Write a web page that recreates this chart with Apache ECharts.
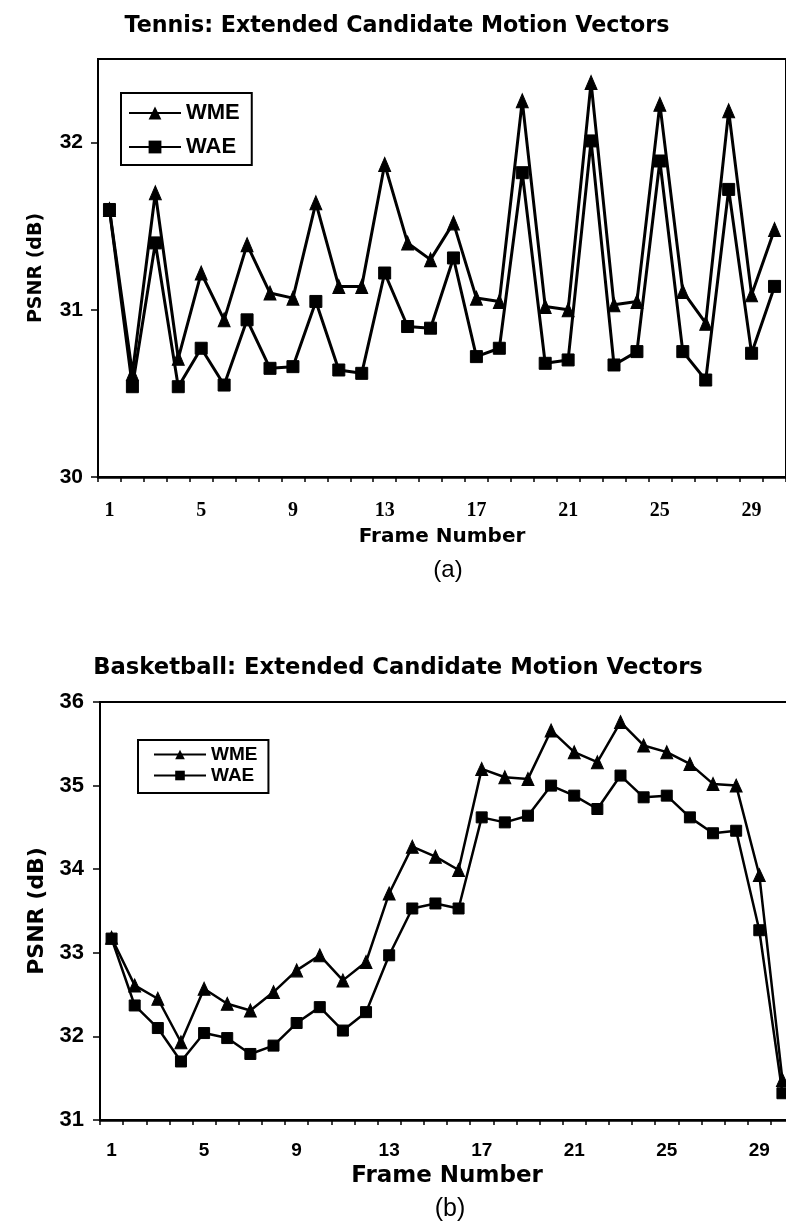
<!DOCTYPE html>
<html>
<head>
<meta charset="utf-8">
<script src="https://cdn.jsdelivr.net/npm/echarts@6/dist/echarts.min.js"></script>
<style>
html,body{margin:0;padding:0;background:#fff;}
#c{width:786px;height:1232px;}
</style>
</head>
<body>
<div id="c"></div>
<script>
// ---- data ----
var frames = ['1','2','3','4','5','6','7','8','9','10','11','12','13','14','15','16','17','18','19','20','21','22','23','24','25','26','27','28','29','30'];
var tennisWME = [31.60, 30.62, 31.70, 30.71, 31.22, 30.94, 31.39, 31.10, 31.07, 31.64, 31.14, 31.14, 31.87, 31.40, 31.30, 31.52, 31.07, 31.05, 32.25, 31.02, 31.00, 32.36, 31.03, 31.05, 32.23, 31.11, 30.92, 32.19, 31.09, 31.48];
var tennisWAE = [31.60, 30.54, 31.40, 30.54, 30.77, 30.55, 30.94, 30.65, 30.66, 31.05, 30.64, 30.62, 31.22, 30.90, 30.89, 31.31, 30.72, 30.77, 31.82, 30.68, 30.70, 32.01, 30.67, 30.75, 31.89, 30.75, 30.58, 31.72, 30.74, 31.14];
var basketWME = [33.18, 32.61, 32.45, 31.93, 32.57, 32.39, 32.31, 32.53, 32.79, 32.97, 32.67, 32.89, 33.71, 34.27, 34.15, 33.99, 35.20, 35.10, 35.08, 35.66, 35.40, 35.28, 35.76, 35.48, 35.40, 35.26, 35.02, 35.00, 33.93, 31.48];
var basketWAE = [33.17, 32.37, 32.10, 31.70, 32.04, 31.98, 31.79, 31.89, 32.16, 32.35, 32.07, 32.29, 32.97, 33.53, 33.59, 33.53, 34.62, 34.56, 34.64, 35.00, 34.88, 34.72, 35.12, 34.86, 34.88, 34.62, 34.43, 34.46, 33.27, 31.32];
var tennisYTicks = [30, 31, 32];
var basketYTicks = [31, 32, 33, 34, 35, 36];
var seriesNames = ['WME', 'WAE'];
var titles = ['Tennis: Extended Candidate Motion Vectors', 'Basketball: Extended Candidate Motion Vectors'];
var xName = 'Frame Number';
var yName = 'PSNR (dB)';
var captions = ['(a)', '(b)'];

var chart = echarts.init(document.getElementById('c'), null, {renderer: 'canvas'});
var black = '#000';
var heavy = 'DejaVu Sans';

function xAxisCfg(gridIndex, labelFont, labelSize, margin, nameSize, nameGap) {
  return {
    type: 'category', gridIndex: gridIndex, data: frames, boundaryGap: true,
    axisLine: {show: true, lineStyle: {color: black, width: 2.5}},
    axisTick: {show: true, interval: 0, length: 5, lineStyle: {color: black, width: 1.5}},
    axisLabel: {interval: 3, color: black, fontFamily: labelFont, fontWeight: 'bold', fontSize: labelSize, margin: margin},
    name: xName, nameLocation: 'middle', nameGap: nameGap,
    nameTextStyle: {color: black, fontFamily: heavy, fontWeight: 'bold', fontSize: nameSize},
    splitLine: {show: false}
  };
}
function yAxisCfg(gridIndex, min, max, ticks, labelFont, labelSize, margin, nameSize, nameGap) {
  return {
    type: 'value', gridIndex: gridIndex, min: min, max: max, interval: 1,
    axisLine: {show: true, lineStyle: {color: black, width: 2}},
    axisTick: {show: true, length: 7, customValues: ticks, lineStyle: {color: black, width: 1.5}},
    axisLabel: {customValues: ticks, color: black, fontFamily: labelFont, fontWeight: 'bold', fontSize: labelSize, margin: margin},
    name: yName, nameLocation: 'middle', nameGap: nameGap, nameRotate: 90,
    nameTextStyle: {color: black, fontFamily: heavy, fontWeight: 'bold', fontSize: nameSize},
    splitLine: {show: false}
  };
}
function lineSeries(name, data, xi, yi, symbol, size, width) {
  return {
    name: name, type: 'line', xAxisIndex: xi, yAxisIndex: yi, data: data,
    symbol: symbol, symbolSize: size, showAllSymbol: true,
    lineStyle: {color: black, width: width},
    itemStyle: {color: black, borderColor: black},
    emphasis: {disabled: true}, animation: false, clip: false
  };
}

var option = {
  backgroundColor: '#fff',
  animation: false,
  title: [
    {text: titles[0], left: 392, top: 10, textAlign: 'center', textStyle: {color: black, fontFamily: heavy, fontWeight: 'bold', fontSize: 22.2}},
    {text: titles[1], left: 393, top: 652, textAlign: 'center', textStyle: {color: black, fontFamily: heavy, fontWeight: 'bold', fontSize: 22.7}},
    {text: captions[0], left: 443, top: 553, textAlign: 'center', textStyle: {color: black, fontFamily: 'Liberation Sans', fontWeight: 'normal', fontSize: 24}},
    {text: captions[1], left: 445, top: 1192, textAlign: 'center', textStyle: {color: black, fontFamily: 'Liberation Sans', fontWeight: 'normal', fontSize: 25}}
  ],
  legend: [
    {
      data: seriesNames, orient: 'vertical', left: 121, top: 93,
      padding: [9, 12, 7, 7], itemGap: 12, itemWidth: 52, itemHeight: 16,
      borderColor: black, borderWidth: 2, selectedMode: false,
      textStyle: {color: black, fontFamily: 'Liberation Sans', fontWeight: 'bold', fontSize: 22}
    },
    {
      data: seriesNames, orient: 'vertical', left: 138, top: 740,
      padding: [5, 11, 8, 15], itemGap: 2, itemWidth: 52, itemHeight: 12,
      borderColor: black, borderWidth: 2, selectedMode: false,
      textStyle: {color: black, fontFamily: 'Liberation Sans', fontWeight: 'bold', fontSize: 19}
    }
  ],
  grid: [
    {left: 98, width: 688, top: 59, height: 418, show: true, borderColor: black, borderWidth: 2, backgroundColor: 'transparent', outerBoundsMode: 'none', containLabel: false},
    {left: 100, width: 694, top: 702, height: 418, show: true, borderColor: black, borderWidth: 2, backgroundColor: 'transparent', outerBoundsMode: 'none', containLabel: false}
  ],
  xAxis: [
    xAxisCfg(0, 'Liberation Serif', 20, 24, 20, 50),
    xAxisCfg(1, 'Liberation Sans', 19, 21, 23, 45)
  ],
  yAxis: [
    yAxisCfg(0, 30, 32.5, tennisYTicks, 'Liberation Sans', 21, 15, 19, 52),
    yAxisCfg(1, 31, 36, basketYTicks, 'Liberation Sans', 22, 16, 22, 52)
  ],
  series: [
    lineSeries(seriesNames[0], tennisWME, 0, 0, 'triangle', [12, 14], 3),
    lineSeries(seriesNames[1], tennisWAE, 0, 0, 'rect', 12, 3),
    lineSeries(seriesNames[0], basketWME, 1, 1, 'triangle', [12, 13], 2.5),
    lineSeries(seriesNames[1], basketWAE, 1, 1, 'rect', 11, 2.5)
  ]
};
chart.setOption(option);
</script>
</body>
</html>
